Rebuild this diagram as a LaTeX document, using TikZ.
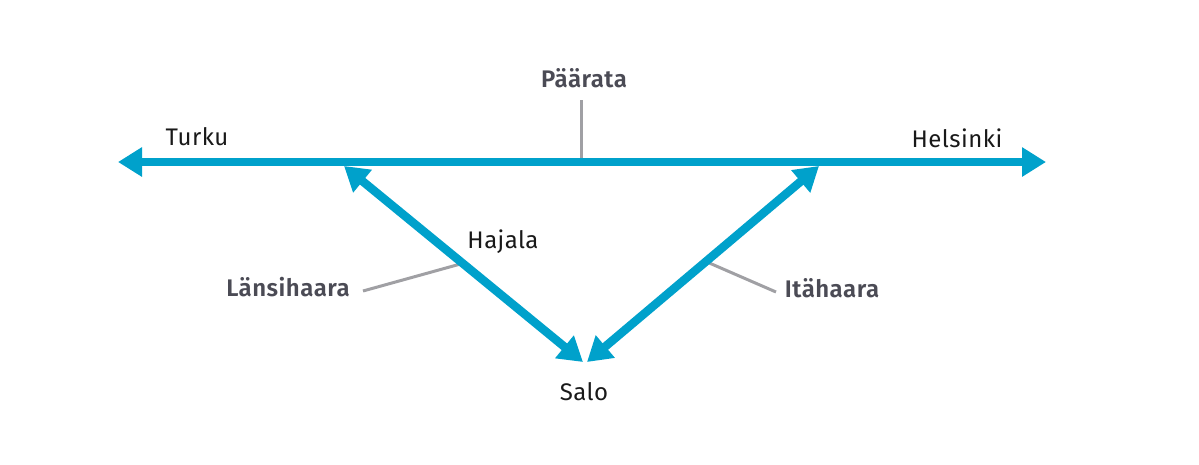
\documentclass[tikz,border=0pt]{standalone}
\usepackage{fontspec}
\setmainfont[LetterSpace=2, BoldFont={Fira Sans SemiBold}]{Fira Sans}
\usepackage{xcolor}
\usetikzlibrary{arrows.meta}
\definecolor{railblue}{RGB}{0,161,203}
\definecolor{leadgray}{RGB}{160,160,164}
\definecolor{labelgray}{RGB}{75,75,85}
\tikzset{
    rail-line/.style = {draw=railblue, line width=8.5pt, {Triangle[length=24pt, width=28pt]}-{Triangle[length=24pt, width=28pt]}},
    leader-line/.style = {draw=leadgray, line width=3pt},
    place-label/.style = {anchor=base, inner sep=0pt, font=\fontsize{24}{28}\selectfont, text=black!90},
    branch-label/.style = {anchor=base, inner sep=0pt, font=\fontsize{24}{28}\selectfont\bfseries, text=labelgray},
}
\begin{document}
\begin{tikzpicture}[x=1pt, y=-1pt]
\useasboundingbox (0,0) rectangle (1199,464);
\coordinate (turku) at (118,162);
\coordinate (helsinki) at (1046,162);
\coordinate (west) at (344,166);
\coordinate (east) at (819,166);
\coordinate (salo-w) at (583,362);
\coordinate (salo-e) at (587,362);
\coordinate (main-foot) at (581,162);
\coordinate (west-foot) at (464,263);
\coordinate (east-foot) at (707,262);
\draw [leader-line] (581,100) coordinate (main-top) -- (main-foot);
\draw [leader-line] (363,291) coordinate (west-end) -- (west-foot);
\draw [leader-line] (776,292) coordinate (east-end) -- (east-foot);
\draw [rail-line] (turku) -- (helsinki);
\draw [rail-line] (west) -- (salo-w);
\draw [rail-line] (east) -- (salo-e);
\node [branch-label] (paarata) at (584,87) {Päärata};
\node [branch-label] (lansihaara) at (288,296) {Länsihaara};
\node [branch-label] (itahaara) at (832,297) {Itähaara};
\node [place-label] (turku-label) at (197,145) {Turku};
\node [place-label] (helsinki-label) at (957,147) {Helsinki};
\node [place-label] (hajala) at (503,248) {Hajala};
\node [place-label] (salo) at (584,400) {Salo};
\end{tikzpicture}
\end{document}
